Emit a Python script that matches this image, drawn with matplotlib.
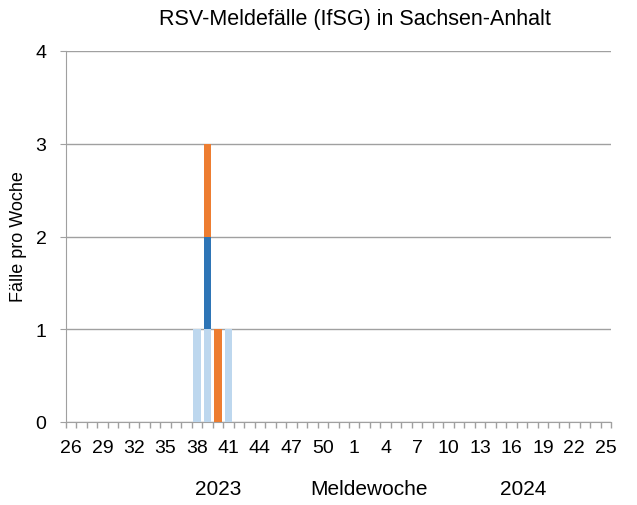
import matplotlib
matplotlib.use("Agg")
from matplotlib import pyplot as plt
import numpy as np

plt.rcParams['font.family'] = ['Liberation Sans', 'DejaVu Sans']

# Meldewochen: KW 26-52 (2023), KW 1-25 (2024)
weeks = list(range(26, 53)) + list(range(1, 26))
n = len(weeks)

# Faelle pro Woche (2023), je Serie
cases_light = {38: 1, 39: 1, 41: 1}
cases_dark = {39: 1}
cases_orange = {39: 1, 40: 1}

def series(d):
    return np.array([d.get(w, 0) if i < 27 else 0 for i, w in enumerate(weeks)], dtype=float)

light = series(cases_light)
dark = series(cases_dark)
orange = series(cases_orange)

fig = plt.figure(figsize=(6.37, 5.06), dpi=100)
ax = fig.add_axes([66/637, 1 - 423/506, 545/637, 371/506])

x = np.arange(n)
ax.bar(x, light, width=0.72, color='#BDD7EE', zorder=3)
ax.bar(x, dark, width=0.72, bottom=light, color='#2E75B6', zorder=3)
ax.bar(x, orange, width=0.72, bottom=light + dark, color='#ED7D31', zorder=3)

ax.set_xlim(-0.5, n - 0.5)
ax.set_ylim(0, 4)
ax.set_yticks([0, 1, 2, 3, 4])
ax.yaxis.grid(True, color='#a0a0a0', linewidth=1, zorder=0)
ax.tick_params(axis='y', length=4, color='#a0a0a0', labelsize=14, pad=10)

ax.set_xticks(x[::3])
ax.set_xticklabels([str(w) for w in weeks[::3]], fontsize=14)
ax.set_xticks(np.arange(n + 1) - 0.5, minor=True)
ax.tick_params(axis='x', which='major', length=0, pad=12)
ax.tick_params(axis='x', which='minor', length=4, color='#a0a0a0', width=1)

for s in ['top', 'right']:
    ax.spines[s].set_visible(False)
ax.spines['left'].set_color('#a0a0a0')
ax.spines['bottom'].set_color('#a0a0a0')

fig.text(355/637, 1 - 19/506, 'RSV-Meldefälle (IfSG) in Sachsen-Anhalt',
         ha='center', va='center', fontsize=15.5)
fig.text(19/637, 1 - 237/506, 'Fälle pro Woche', rotation=90,
         ha='center', va='center', fontsize=13)
fig.text(218/637, 1 - 490/506, '2023', ha='center', va='center', fontsize=15)
fig.text(369/637, 1 - 490/506, 'Meldewoche', ha='center', va='center', fontsize=15)
fig.text(523/637, 1 - 490/506, '2024', ha='center', va='center', fontsize=15)

fig.savefig('out.png', dpi=100)
